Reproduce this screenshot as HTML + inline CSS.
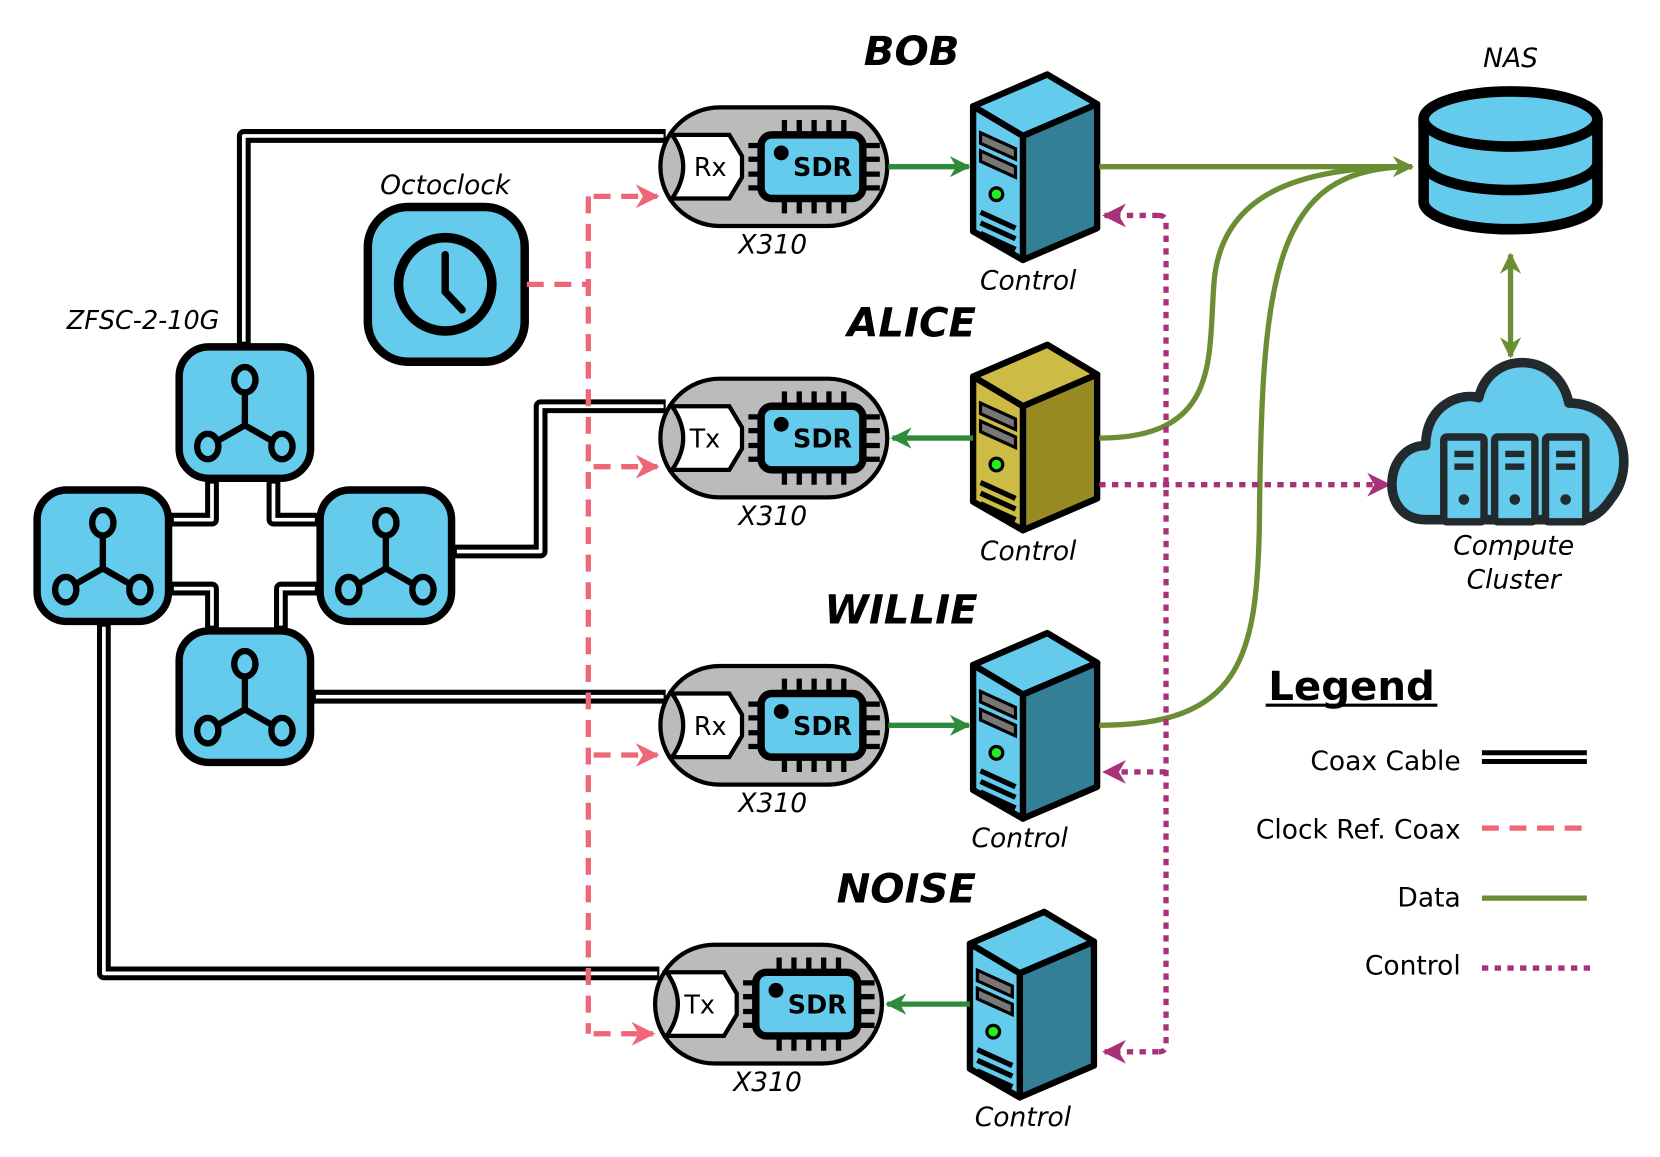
<!DOCTYPE html>
<html><head><meta charset="utf-8"><style>
html,body{margin:0;padding:0;background:#fff}
svg{display:block}
text{font-family:"DejaVu Sans","Liberation Sans",sans-serif}
</style></head><body>
<svg width="1660" height="1157" viewBox="0 0 1566 1091" xmlns="http://www.w3.org/2000/svg">
<defs>
<marker id="ag" viewBox="0 0 10 10" refX="9" refY="5" markerWidth="4" markerHeight="4" orient="auto-start-reverse"><path d="M0,0 L10,5 L0,10 L3,5z" fill="#2e8b3a"/></marker>
<marker id="ao" viewBox="0 0 10 10" refX="9" refY="5" markerWidth="4" markerHeight="4" orient="auto-start-reverse"><path d="M0,0 L10,5 L0,10 L3,5z" fill="#6b8e35"/></marker>
<marker id="ar" viewBox="0 0 10 10" refX="9" refY="5" markerWidth="4.5" markerHeight="4.5" orient="auto"><path d="M0,0 L10,5 L0,10 L3,5z" fill="#ee6677"/></marker>
<marker id="am" viewBox="0 0 10 10" refX="9" refY="5" markerWidth="4.5" markerHeight="4.5" orient="auto"><path d="M0,0 L10,5 L0,10 L3,5z" fill="#a8327a"/></marker>
<g id="split">
<rect x="2" y="2" width="124" height="124" rx="28" fill="#65cbec" stroke="#000" stroke-width="7"/>
<path d="M64,44 V76 L29,96 M64,76 L99,96" stroke="#000" stroke-width="6" fill="none"/>
<ellipse cx="64" cy="33" rx="10" ry="12" fill="#65cbec" stroke="#000" stroke-width="6"/>
<ellipse cx="29" cy="96" rx="10" ry="12" fill="#65cbec" stroke="#000" stroke-width="6"/>
<ellipse cx="99" cy="96" rx="10" ry="12" fill="#65cbec" stroke="#000" stroke-width="6"/>
</g>
<g id="x310">
<rect x="-107" y="-56" width="214" height="112" rx="56" fill="#bbb" stroke="#000" stroke-width="4"/>
<path d="M-96,-30 H-42 L-30,-10 V10 L-42,30 H-96 Q-75,0 -96,-30z" fill="#fff" stroke="#000" stroke-width="4"/>
<g stroke="#000" stroke-width="5">
<path d="M10,-44v14M24,-44v14M38,-44v14M52,-44v14M66,-44v14M10,30v14M24,30v14M38,30v14M52,30v14M66,30v14"/>
<path d="M-24,-20h14M-24,-7h14M-24,7h14M-24,20h14M86,-20h14M86,-7h14M86,7h14M86,20h14"/>
</g>
<rect x="-12" y="-30" width="96" height="60" rx="10" fill="#65cbec" stroke="#000" stroke-width="7"/>
<circle cx="7" cy="-13" r="7" fill="#000"/>
<text x="46" y="9" font-size="24" text-anchor="middle" style="font-family:'DejaVu Sans';font-weight:900" transform="">SDR</text>
</g>
</defs>

<!-- coax double lines -->
<g fill="none" stroke-linejoin="round">
<g stroke="#000" stroke-width="13">
<path d="M230,325 V128 H628"/>
<path d="M428,520 H510 V383 H628"/>
<path d="M295,657 H628"/>
<path d="M98,588 V918 H622"/>
<path d="M200,453 V490 H161"/>
<path d="M258,453 V490 H300"/>
<path d="M161,555 H200 V593"/>
<path d="M300,555 H265 V593"/>
</g>
<g stroke="#fff" stroke-width="3.5">
<path d="M230,322 V128 H626"/>
<path d="M431,520 H510 V383 H626"/>
<path d="M298,657 H626"/>
<path d="M98,591 V918 H620"/>
<path d="M200,456 V490 H164"/>
<path d="M258,456 V490 H297"/>
<path d="M164,555 H200 V590"/>
<path d="M297,555 H265 V590"/>
</g>
</g>

<use href="#split" x="167" y="325"/>
<use href="#split" x="33" y="460"/>
<use href="#split" x="300" y="460"/>
<use href="#split" x="167" y="593"/>
<text x="135" y="310" font-size="24" font-style="italic" text-anchor="middle">ZFSC-2-10G</text>

<rect x="347" y="195" width="148" height="146" rx="38" fill="#65cbec" stroke="#000" stroke-width="8"/>
<circle cx="420" cy="268" r="44" fill="#65cbec" stroke="#000" stroke-width="9"/>
<path d="M420,240 V275 L436,292" stroke="#000" stroke-width="7" fill="none" stroke-linecap="round"/>
<text x="420" y="183" font-size="25" font-style="italic" text-anchor="middle">Octoclock</text>

<g fill="none" stroke="#ee6677" stroke-width="5" stroke-dasharray="16,10">
<path d="M497,268 H555 M555,185 V975"/>
<path d="M560,185 H620" marker-end="url(#ar)"/>
<path d="M560,440 H620" marker-end="url(#ar)"/>
<path d="M560,712 H620" marker-end="url(#ar)"/>
<path d="M560,975 H616" marker-end="url(#ar)"/>
</g>

<use href="#x310" x="730" y="157"/>
<use href="#x310" x="730" y="413"/>
<use href="#x310" x="730" y="684"/>
<use href="#x310" x="725" y="947"/>
<g font-size="24" text-anchor="middle" style="font-family:'Liberation Sans'">
<text x="670" y="166">Rx</text><text x="665" y="422">Tx</text><text x="670" y="693">Rx</text><text x="660" y="956">Tx</text>
</g>
<g font-size="25" font-style="italic" text-anchor="middle">
<text x="729" y="239">X310</text><text x="729" y="495">X310</text><text x="729" y="766">X310</text><text x="724" y="1029">X310</text>
</g>
<g font-size="38" font-weight="bold" font-style="italic" text-anchor="middle">
<text x="860" y="61">BOB</text><text x="860" y="317">ALICE</text><text x="850" y="588">WILLIE</text><text x="855" y="851">NOISE</text>
</g>

<g stroke="#000" stroke-width="6" stroke-linejoin="round">
<g transform="translate(918,70)">
<path d="M0,30 L70,0 L117,28 L47,58z" fill="#65cbec"/><path d="M47,58 L117,28 V145 L47,175z" fill="#337f96"/><path d="M0,30 L47,58 V175 L0,148z" fill="#65cbec"/>
</g>
<g transform="translate(918,325)">
<path d="M0,30 L70,0 L117,28 L47,58z" fill="#ccbb44"/><path d="M47,58 L117,28 V145 L47,175z" fill="#978a22"/><path d="M0,30 L47,58 V175 L0,148z" fill="#ccbb44"/>
</g>
<g transform="translate(918,597)">
<path d="M0,30 L70,0 L117,28 L47,58z" fill="#65cbec"/><path d="M47,58 L117,28 V145 L47,175z" fill="#337f96"/><path d="M0,30 L47,58 V175 L0,148z" fill="#65cbec"/>
</g>
<g transform="translate(915,860)">
<path d="M0,30 L70,0 L117,28 L47,58z" fill="#65cbec"/><path d="M47,58 L117,28 V145 L47,175z" fill="#337f96"/><path d="M0,30 L47,58 V175 L0,148z" fill="#65cbec"/>
</g>
</g>
<g stroke="#000" stroke-width="3" fill="#777">
<g transform="translate(918,70)"><path d="M7,55 L40,70 V80 L7,65z M7,72 L40,87 V97 L7,82z"/><circle cx="22" cy="113" r="6" fill="#22ee22"/><path d="M7,130 L40,145 M7,140 L40,155 M7,150 L40,165" fill="none" stroke-width="5"/></g>
<g transform="translate(918,325)"><path d="M7,55 L40,70 V80 L7,65z M7,72 L40,87 V97 L7,82z"/><circle cx="22" cy="113" r="6" fill="#22ee22"/><path d="M7,130 L40,145 M7,140 L40,155 M7,150 L40,165" fill="none" stroke-width="5"/></g>
<g transform="translate(918,597)"><path d="M7,55 L40,70 V80 L7,65z M7,72 L40,87 V97 L7,82z"/><circle cx="22" cy="113" r="6" fill="#22ee22"/><path d="M7,130 L40,145 M7,140 L40,155 M7,150 L40,165" fill="none" stroke-width="5"/></g>
<g transform="translate(915,860)"><path d="M7,55 L40,70 V80 L7,65z M7,72 L40,87 V97 L7,82z"/><circle cx="22" cy="113" r="6" fill="#22ee22"/><path d="M7,130 L40,145 M7,140 L40,155 M7,150 L40,165" fill="none" stroke-width="5"/></g>
</g>
<g font-size="25" font-style="italic" text-anchor="middle">
<text x="970" y="273">Control</text><text x="970" y="528">Control</text><text x="962" y="799">Control</text><text x="965" y="1062">Control</text>
</g>

<g stroke="#2e8b3a" stroke-width="5" fill="none">
<path d="M838,157 H914" marker-end="url(#ag)"/>
<path d="M918,413 H842" marker-end="url(#ag)"/>
<path d="M838,684 H914" marker-end="url(#ag)"/>
<path d="M915,947 H837" marker-end="url(#ag)"/>
</g>

<g stroke="#6b8e35" stroke-width="5" fill="none">
<path d="M1037,157 H1332" marker-end="url(#ao)"/>
<path d="M1037,413 C1150,413 1140,340 1145,270 C1150,180 1230,157 1332,157"/>
<path d="M1037,684 C1170,684 1185,620 1188,500 C1190,260 1200,157 1332,157"/>
<path d="M1425,240 V336" marker-start="url(#ao)" marker-end="url(#ao)"/>
</g>

<g stroke="#a8327a" stroke-width="5" fill="none" stroke-dasharray="6,6">
<path d="M1100,210 V985 Q1100,992 1093,992"/>
<path d="M1093,203 Q1100,203 1100,210"/>
<path d="M1093,203 H1042" marker-end="url(#am)"/>
<path d="M1100,728 H1042" marker-end="url(#am)"/>
<path d="M1093,992 H1042" marker-end="url(#am)"/>
<path d="M1037,457 H1310" marker-end="url(#am)"/>
</g>

<g stroke="#000" stroke-width="10" fill="#65cbec">
<path d="M1343,112 V190 A82,26 0 0 0 1507,190 V112"/>
<path d="M1343,153 A82,26 0 0 0 1507,153" fill="none"/>
<ellipse cx="1425" cy="112" rx="82" ry="26"/>
</g>
<text x="1425" y="63" font-size="25" font-style="italic" text-anchor="middle">NAS</text>

<path d="M1345,490 C1300,490 1305,420 1345,420 C1345,380 1380,370 1395,375 C1405,330 1470,330 1480,380 C1530,380 1545,440 1520,470 C1510,485 1500,490 1490,490z" fill="#65cbec" stroke="#222a2e" stroke-width="9" stroke-linejoin="round"/>
<g fill="#65cbec" stroke="#222a2e" stroke-width="7">
<rect x="1362" y="412" width="38" height="80" rx="3"/><rect x="1410" y="412" width="38" height="80" rx="3"/><rect x="1458" y="412" width="38" height="80" rx="3"/>
</g>
<g fill="#222a2e">
<rect x="1372" y="425" width="18" height="6"/><rect x="1372" y="437" width="18" height="6"/>
<rect x="1420" y="425" width="18" height="6"/><rect x="1420" y="437" width="18" height="6"/>
<rect x="1468" y="425" width="18" height="6"/><rect x="1468" y="437" width="18" height="6"/>
<circle cx="1381" cy="471" r="5"/><circle cx="1429" cy="471" r="5"/><circle cx="1477" cy="471" r="5"/>
</g>
<g font-size="25" font-style="italic" text-anchor="middle"><text x="1428" y="523">Compute</text><text x="1428" y="555">Cluster</text></g>

<text x="1275" y="660" font-size="38" font-weight="bold" text-anchor="middle">Legend</text>
<path d="M1194,665 H1356" stroke="#000" stroke-width="3"/>
<g font-size="25" text-anchor="end">
<text x="1378" y="726">Coax Cable</text><text x="1378" y="791">Clock Ref. Coax</text><text x="1378" y="855">Data</text><text x="1378" y="919">Control</text>
</g>
<path d="M1398,714 H1497" stroke="#000" stroke-width="13"/><path d="M1398,714 H1497" stroke="#fff" stroke-width="3.5"/>
<path d="M1398,781 H1497" stroke="#ee6677" stroke-width="5" stroke-dasharray="16,10"/>
<path d="M1398,847 H1497" stroke="#6b8e35" stroke-width="5"/>
<path d="M1398,913 H1503" stroke="#a8327a" stroke-width="5" stroke-dasharray="6,6"/>
</svg>
</body></html>
